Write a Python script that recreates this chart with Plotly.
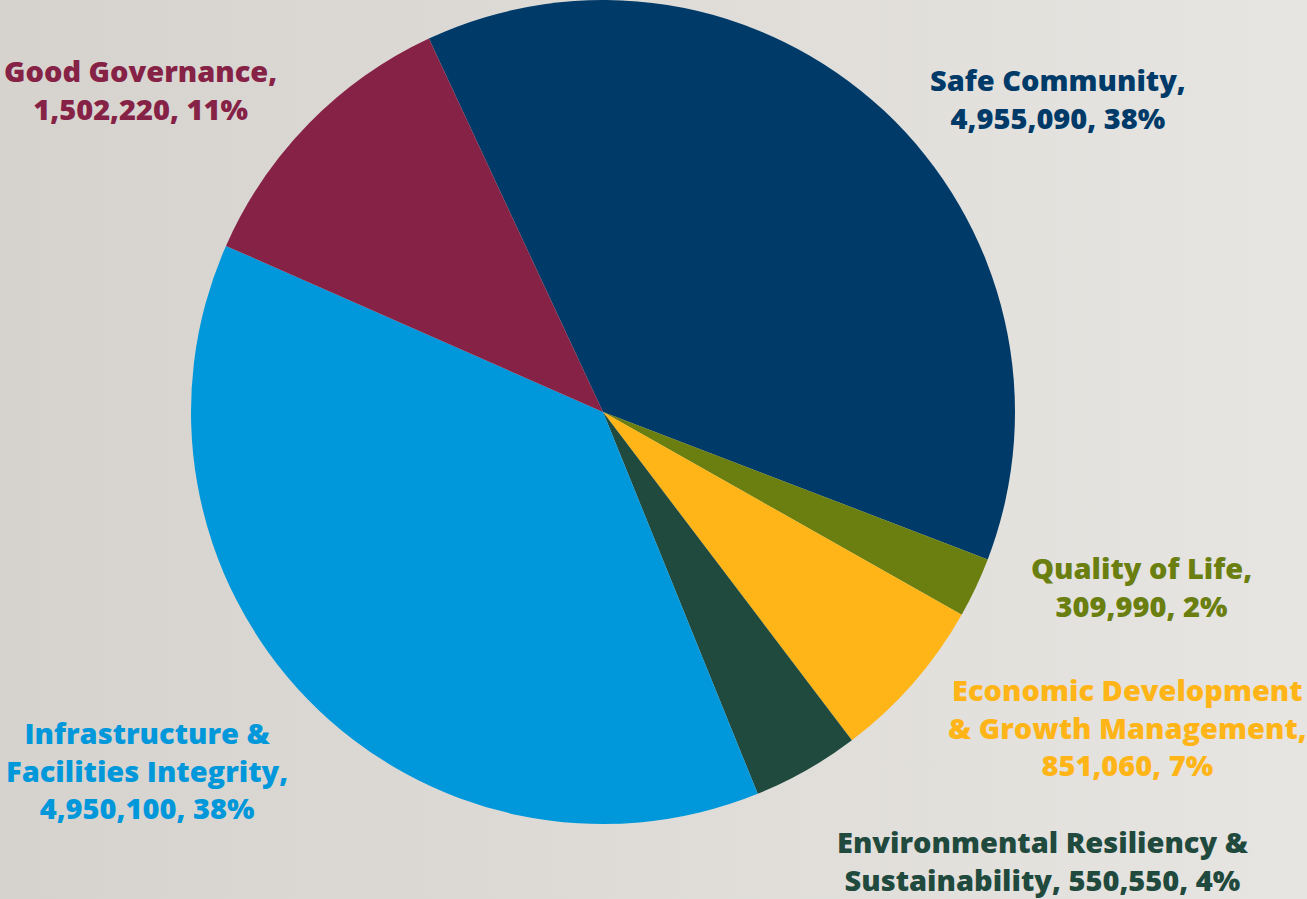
import base64
import plotly.graph_objects as go

# Budget allocation by strategic priority
categories = [
    "Safe Community",
    "Quality of Life",
    "Economic Development & Growth Management",
    "Environmental Resiliency & Sustainability",
    "Infrastructure & Facilities Integrity",
    "Good Governance",
]
values = [4955090, 309990, 851060, 550550, 4950100, 1502220]
percent_labels = ["38%", "2%", "7%", "4%", "38%", "11%"]

# How each category name wraps in its label
label_names = [
    "Safe Community",
    "Quality of Life",
    "Economic Development<br>& Growth Management",
    "Environmental Resiliency &<br>Sustainability",
    "Infrastructure &<br>Facilities Integrity",
    "Good Governance",
]
value_on_new_line = [True, True, True, False, True, True]

colors = ["#003a68", "#6a7f10", "#ffb517", "#1f4a3d", "#0098da", "#862245"]

W, H = 1307, 899
cx, cy, r = 603, 412, 412

fig = go.Figure()
fig.add_trace(go.Pie(
    labels=categories,
    values=values,
    sort=False,
    direction="clockwise",
    rotation=-25,
    textinfo="none",
    hoverinfo="label+value+percent",
    marker=dict(colors=colors, line=dict(width=0)),
    showlegend=False,
    domain=dict(x=[(cx - r) / W, (cx + r) / W], y=[1 - (cy + r) / H, 1.0]),
))

# label anchor points (pixel centres of each text block)
label_pos = [
    (1058, 98),
    (1141, 586),
    (1127, 727),
    (1043, 860),
    (147, 770),
    (140, 90),
]

annotations = []
for name, val, pct, brk, col, (px, py) in zip(
        label_names, values, percent_labels, value_on_new_line, colors, label_pos):
    sep = "<br>" if brk else " "
    text = f"{name},{sep}{val:,}, {pct}"
    annotations.append(dict(
        x=px / W, y=1 - py / H, xref="paper", yref="paper",
        text=text, showarrow=False, align="center",
        xanchor="center", yanchor="middle",
        font=dict(family="Open Sans", size=29, color=col, weight=800),
    ))

# soft left-to-right background gradient
svg = (
    '<svg xmlns="http://www.w3.org/2000/svg" width="100" height="100" preserveAspectRatio="none">'
    '<defs><linearGradient id="g" x1="0" y1="0" x2="1" y2="0">'
    '<stop offset="0" stop-color="#d6d3cf"/><stop offset="1" stop-color="#e7e5e1"/>'
    '</linearGradient></defs><rect width="100" height="100" fill="url(#g)"/></svg>'
)
bg_uri = "data:image/svg+xml;base64," + base64.b64encode(svg.encode()).decode()

fig.update_layout(
    width=W, height=H,
    margin=dict(l=0, r=0, t=0, b=0),
    paper_bgcolor="#dfdcd8",
    plot_bgcolor="rgba(0,0,0,0)",
    annotations=annotations,
    images=[dict(source=bg_uri, xref="paper", yref="paper", x=0, y=1,
                 sizex=1, sizey=1, sizing="stretch", layer="below",
                 xanchor="left", yanchor="top")],
)

fig.write_html("out.html")
